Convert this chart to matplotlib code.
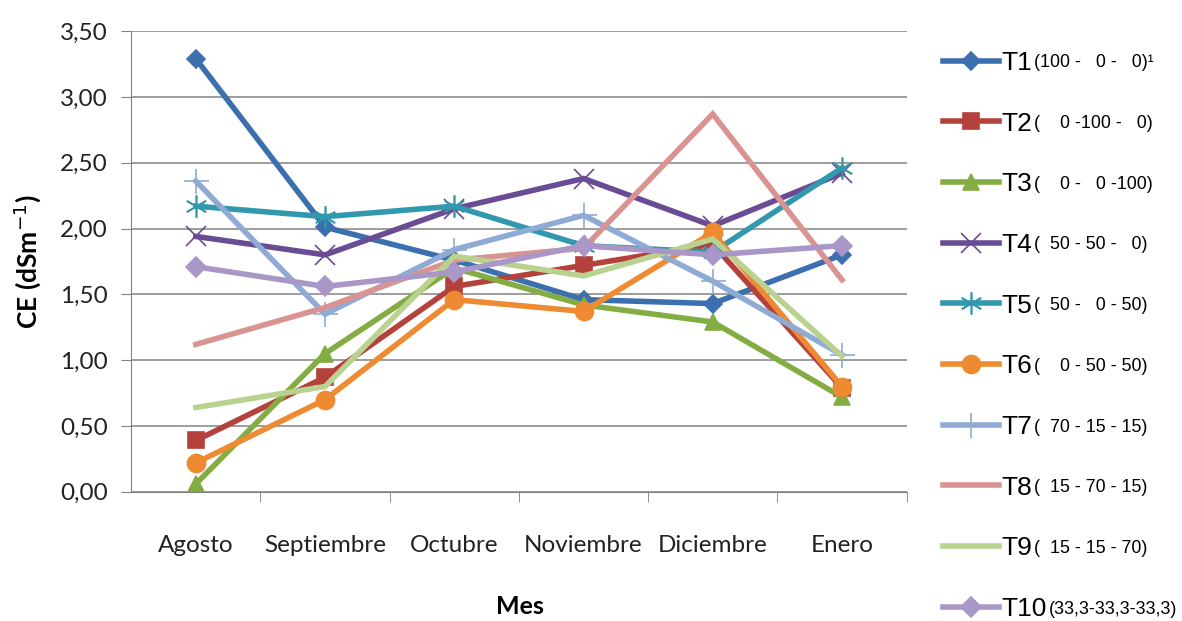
import matplotlib
matplotlib.use("Agg")
import matplotlib.pyplot as plt
from matplotlib import font_manager
from matplotlib.ticker import FuncFormatter, FixedLocator

# Conductividad electrica por mes y tratamiento
meses = ["Agosto", "Septiembre", "Octubre", "Noviembre", "Diciembre", "Enero"]

t1 = [3.29, 2.01, 1.76, 1.46, 1.43, 1.80]
t2 = [0.39, 0.87, 1.56, 1.72, 1.88, 0.79]
t3 = [0.06, 1.05, 1.70, 1.42, 1.29, 0.72]
t4 = [1.94, 1.80, 2.15, 2.38, 2.02, 2.42]
t5 = [2.17, 2.09, 2.17, 1.87, 1.82, 2.46]
t6 = [0.22, 0.70, 1.46, 1.37, 1.97, 0.80]
t7 = [2.36, 1.35, 1.84, 2.10, 1.60, 1.04]
t8 = [1.12, 1.40, 1.76, 1.85, 2.87, 1.61]
t9 = [0.64, 0.80, 1.79, 1.64, 1.92, 1.03]
t10 = [1.71, 1.56, 1.67, 1.87, 1.80, 1.87]

nombres = ["T1", "T2", "T3", "T4", "T5", "T6", "T7", "T8", "T9", "T10"]
dosis = ["(100 -   0 -   0)\u00b9", "(    0 -100 -   0)", "(    0 -   0 -100)",
         "(  50 - 50 -   0)", "(  50 -   0 - 50)", "(    0 - 50 - 50)",
         "(  70 - 15 - 15)", "(  15 - 70 - 15)", "(  15 - 15 - 70)",
         "(33,3-33,3-33,3)"]
series = [t1, t2, t3, t4, t5, t6, t7, t8, t9, t10]

colores = ["#3c6fae", "#b5413d", "#83ad43", "#6a4c94", "#3198ae",
           "#ee8a31", "#8eaad5", "#d99492", "#b9d28f", "#a997c8"]
marcadores = ["D", "s", "^", "x", (6, 2, 0), "o", "+", "", "", "D"]
tam = [9, 12, 12, 14, 16, 13, 18, 0, 0, 10]

plt.rcParams["font.family"] = ["Lato", "DejaVu Sans"]

# fuente angosta para la leyenda, si existe
try:
    font_manager.findfont("Liberation Sans Narrow", fallback_to_default=False)
    angosta = "Liberation Sans Narrow"
except ValueError:
    angosta = "Liberation Sans"

fig = plt.figure(figsize=(11.82, 6.21), dpi=100)
ax = fig.add_axes([0.111, 0.208, 0.656, 0.742])

x = list(range(len(meses)))
lineas = []
for i in range(len(series)):
    l, = ax.plot(x, series[i], color=colores[i], lw=4, marker=marcadores[i],
                 markersize=tam[i], markeredgewidth=1.2,
                 markeredgecolor=colores[i], solid_joinstyle="miter", label=nombres[i])
    lineas.append(l)

ax.set_xlim(-0.5, 5.5)
ax.set_ylim(0, 3.5)
ax.set_yticks([0, 0.5, 1, 1.5, 2, 2.5, 3, 3.5])
ax.yaxis.set_major_formatter(FuncFormatter(lambda v, p: f"{v:.2f}".replace(".", ",")))
ax.set_xticks(x)
ax.set_xticklabels(meses)
ax.xaxis.set_minor_locator(FixedLocator([0.5, 1.5, 2.5, 3.5, 4.5, 5.5]))
ax.tick_params(axis="x", which="major", length=0, labelsize=17.5, pad=31, colors="#222222")
ax.tick_params(axis="x", which="minor", length=7, color="#808080")
ax.tick_params(axis="y", length=7, color="#808080", labelsize=17.5, pad=10, labelcolor="#222222")
ax.grid(axis="y", color="#8c8c8c", lw=1.2)
ax.set_axisbelow(True)
for s in ["top", "right"]:
    ax.spines[s].set_visible(False)
ax.spines["left"].set_color("#808080")
ax.spines["bottom"].set_color("#808080")

ax.set_ylabel("CE (dSm$^{-1}$)", fontsize=19, fontweight="bold", labelpad=12)
fig.text(0.44, 0.012, "Mes", fontsize=18, fontweight="bold", ha="center")

leg = fig.legend(handles=lineas, loc="upper left", bbox_to_anchor=(0.789, 0.935),
                 frameon=False, labelspacing=1.39, handlelength=2.1,
                 handletextpad=0.1, borderaxespad=0, prop={"family": angosta, "size": 19})

# composicion de cada tratamiento, en letra menor junto al nombre
fig.canvas.draw()
W, H = fig.bbox.width, fig.bbox.height
for txt, d in zip(leg.get_texts(), dosis):
    bb = txt.get_window_extent()
    fig.text((bb.x1 + 2) / W, (bb.y0 + bb.y1) / 2 / H, d, va="center", ha="left",
             fontsize=12.9, family=angosta)

fig.savefig("out.png", dpi=100)
